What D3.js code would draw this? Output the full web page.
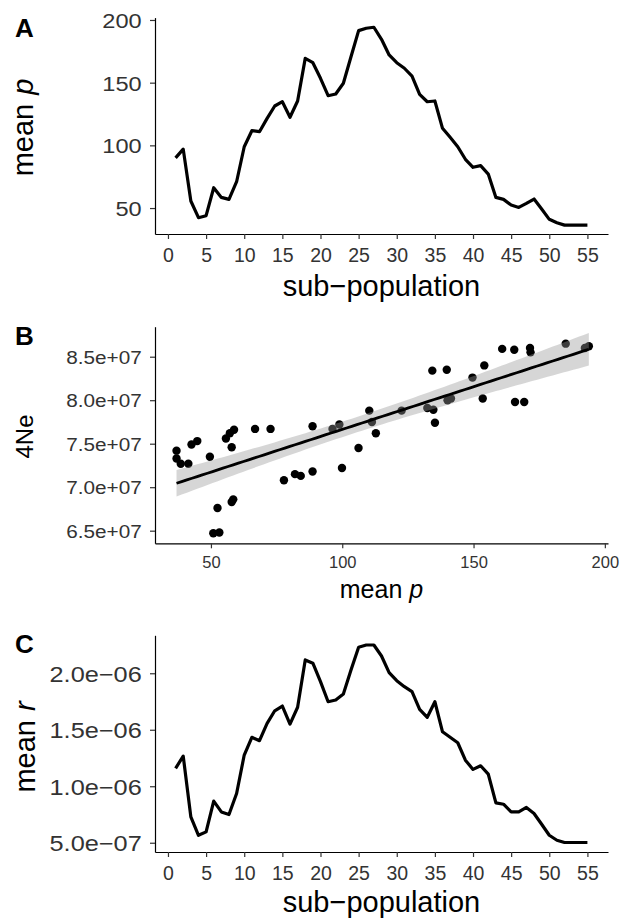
<!DOCTYPE html>
<html>
<head>
<meta charset="utf-8">
<script src="https://cdn.jsdelivr.net/npm/d3@7"></script>
<style>
  body { margin: 0; background: #fff; }
  svg text { font-family: "Liberation Sans", Arial, sans-serif; }
</style>
</head>
<body>
<svg id="chart" width="630" height="919"></svg>
<script>
// sub-population index (x of panels A and C)
const subPop = [1, 2, 3, 4, 5, 6, 7, 8, 9, 10, 11, 12, 13, 14, 15, 16, 17, 18, 19, 20,
  21, 22, 23, 24, 25, 26, 27, 28, 29, 30, 31, 32, 33, 34, 35, 36, 37, 38, 39, 40,
  41, 42, 43, 44, 45, 46, 47, 48, 49, 50, 51, 52, 53, 54, 55];

// panel A: mean p per sub-population
const meanP = [90, 97, 55.6, 42.3, 43.9, 66.2, 58.5, 56.9, 71, 98.9,
  111.7, 110.9, 121.5, 131.4, 134.8, 122.4, 135.4, 169.4, 165.9, 153.5,
  139.6, 141, 149.5, 170.7, 191.5, 193.4, 194.2, 184.6, 172.1, 165.9,
  161.5, 155.3, 140.7, 134.8, 135.4, 113.6, 106.4, 98.9, 88.9, 82.5,
  83.8, 77.1, 58.5, 56.9, 52.4, 50.5, 53.7, 57.2, 49.2, 41,
  38.3, 36.4, 36.4, 36.4, 36.4];

// panel C: mean r per sub-population
const meanR = [1.158e-6, 1.267e-6, 0.729e-6, 0.566e-6, 0.596e-6, 0.868e-6, 0.773e-6, 0.75e-6, 0.936e-6, 1.276e-6,
  1.433e-6, 1.403e-6, 1.557e-6, 1.668e-6, 1.71e-6, 1.55e-6, 1.699e-6, 2.118e-6, 2.089e-6, 1.926e-6,
  1.748e-6, 1.763e-6, 1.816e-6, 2.029e-6, 2.23e-6, 2.25e-6, 2.25e-6, 2.153e-6, 2.005e-6, 1.934e-6,
  1.881e-6, 1.837e-6, 1.681e-6, 1.61e-6, 1.748e-6, 1.482e-6, 1.433e-6, 1.385e-6, 1.231e-6, 1.149e-6,
  1.181e-6, 1.107e-6, 0.853e-6, 0.841e-6, 0.773e-6, 0.773e-6, 0.812e-6, 0.759e-6, 0.664e-6, 0.566e-6,
  0.522e-6, 0.502e-6, 0.502e-6, 0.502e-6, 0.502e-6];

// panel B: mean p vs 4Ne
const scatterP = [36.9, 36.9, 38.5, 41.4, 42.6, 44.8, 49.6, 50.9, 53.2, 52.5,
  57.9, 58.5, 55.7, 57.2, 58.8, 57.9, 66.8, 72.7, 77.8, 82.0,
  84.2, 88.7, 88.7, 96.3, 98.9, 99.9, 106.2, 110.3, 111.3, 112.8,
  122.6, 132.4, 134.7, 135.3, 134.3, 139.8, 140.1, 141.4, 149.6, 154.1,
  153.5, 160.9, 165.5, 171.5, 171.7, 165.8, 169.3, 185.1, 192.4, 193.9];
const scatterNe = [7.42e7, 7.33e7, 7.27e7, 7.27e7, 7.49e7, 7.53e7, 7.35e7, 6.47e7, 6.48e7, 6.76e7,
  6.83e7, 6.86e7, 7.56e7, 7.62e7, 7.66e7, 7.46e7, 7.67e7, 7.67e7, 7.08e7, 7.15e7,
  7.13e7, 7.18e7, 7.70e7, 7.67e7, 7.72e7, 7.22e7, 7.45e7, 7.88e7, 7.75e7, 7.62e7,
  7.88e7, 7.91e7, 7.89e7, 7.74e7, 8.34e7, 8.35e7, 8.00e7, 8.02e7, 8.26e7, 8.40e7,
  8.02e7, 8.59e7, 8.58e7, 8.60e7, 8.55e7, 7.98e7, 7.98e7, 8.65e7, 8.60e7, 8.62e7];

// tick values
const subPopTicks = [0, 5, 10, 15, 20, 25, 30, 35, 40, 45, 50, 55];
const meanPTicksA = [50, 100, 150, 200];
const meanPTicksB = [50, 100, 150, 200];
const neTicks = [6.5e7, 7.0e7, 7.5e7, 8.0e7, 8.5e7];
const rTicks = [5e-7, 1e-6, 1.5e-6, 2e-6];

const svg = d3.select("#chart");

// R-style scientific labels: 2.0e-06, 8.5e+07
function sci(v) {
  const parts = v.toExponential(1).split("e");
  const e = +parts[1];
  return parts[0] + "e" + (e < 0 ? "\u2212" : "+") + String(Math.abs(e)).padStart(2, "0");
}

// widen text a bit (the source figure is slightly stretched)
function stretch(sel, k) {
  sel.each(function() {
    const w = this.getComputedTextLength();
    d3.select(this).attr("textLength", w * k).attr("lengthAdjust", "spacingAndGlyphs");
  });
}

function drawAxes(x, y, o) {
  const xg = svg.append("g")
    .attr("transform", `translate(0,${y.range()[0]})`)
    .call(d3.axisBottom(x).tickValues(o.xTicks).tickSize(5).tickSizeOuter(0));
  xg.selectAll("text")
    .attr("y", o.xLabOff).attr("dy", null)
    .attr("fill", "#333").style("font-size", o.xFont + "px");

  const yg = svg.append("g")
    .attr("transform", `translate(${x.range()[0]},0)`)
    .call(d3.axisLeft(y).tickValues(o.yTicks).tickFormat(o.yFmt).tickSize(5).tickSizeOuter(0));
  yg.selectAll("text")
    .attr("x", -13.3).attr("dy", "0.36em")
    .attr("fill", "#333").style("font-size", o.yFont + "px")
    .call(stretch, 1.15);

  [xg, yg].forEach(g => {
    g.select(".domain").attr("stroke", "#000").attr("stroke-width", 1.2);
    g.selectAll(".tick line").attr("stroke", "#333").attr("stroke-width", 1.2);
  });
}

function yTitle(xb, yc, size, main, ital) {
  const t = svg.append("text")
    .attr("transform", `translate(${xb},${yc}) rotate(-90)`)
    .attr("text-anchor", "middle")
    .style("font-size", size + "px")
    .text(main);
  if (ital) t.append("tspan").attr("dx", 9).style("font-style", "italic").text(ital);
}

function xTitle(xc, yb, size, main, ital) {
  const t = svg.append("text")
    .attr("x", xc).attr("y", yb)
    .attr("text-anchor", "middle")
    .style("font-size", size + "px")
    .text(main);
  if (ital) t.append("tspan").attr("dx", 7).style("font-style", "italic").text(ital);
}

function panelTag(letter, yb) {
  svg.append("text").attr("x", 15).attr("y", yb)
    .style("font-size", "26px").style("font-weight", "bold")
    .text(letter);
}

function linePanel(vals, yDomain, yRange, o) {
  const x = d3.scaleLinear().domain([-1.7, 57.7]).range([155, 608]);
  const y = d3.scaleLinear().domain(yDomain).range(yRange);
  drawAxes(x, y, o);
  svg.append("path")
    .datum(subPop.map((s, i) => [s, vals[i]]))
    .attr("fill", "none")
    .attr("stroke", "#000")
    .attr("stroke-width", 3.2)
    .attr("stroke-linejoin", "round")
    .attr("d", d3.line().x(d => x(d[0])).y(d => y(d[1])));
}

// ---------- panel A ----------
linePanel(meanP, [29.3, 201.9], [234, 17.6], {
  xTicks: subPopTicks, yTicks: meanPTicksA, yFmt: d3.format("d"),
  xLabOff: 27.5, xFont: 19.5, yFont: 20.5
});
xTitle(381.5, 296, 29, "sub\u2212population");
yTitle(33, 127.5, 29, "mean", "p");
panelTag("A", 37);

// ---------- panel B ----------
{
  const x = d3.scaleLinear().domain([28.7, 201.2]).range([155, 608]);
  const y = d3.scaleLinear().domain([6.355e7, 8.845e7]).range([543.3, 326.7]);
  drawAxes(x, y, {
    xTicks: meanPTicksB, yTicks: neTicks, yFmt: sci,
    xLabOff: 24.7, xFont: 16.5, yFont: 18
  });

  const pts = scatterP.map((p, i) => [p, scatterNe[i]]);
  svg.append("g").selectAll("circle")
    .data(pts).join("circle")
    .attr("cx", d => x(d[0])).attr("cy", d => y(d[1]))
    .attr("r", 4.2).attr("fill", "#000");

  // linear fit with 95% confidence band
  const n = pts.length;
  const mx = d3.mean(pts, d => d[0]);
  const my = d3.mean(pts, d => d[1]);
  const sxx = d3.sum(pts, d => (d[0] - mx) ** 2);
  const sxy = d3.sum(pts, d => (d[0] - mx) * (d[1] - my));
  const b = sxy / sxx, a = my - b * mx;
  const s = Math.sqrt(d3.sum(pts, d => (d[1] - a - b * d[0]) ** 2) / (n - 2));
  const tq = 2.01;
  const [x0, x1] = d3.extent(scatterP);
  const grid = d3.range(0, 81).map(k => x0 + (x1 - x0) * k / 80);
  const band = grid.map(v => {
    const se = s * Math.sqrt(1 / n + (v - mx) ** 2 / sxx);
    const f = a + b * v;
    return { v, f, lo: f - tq * se, hi: f + tq * se };
  });
  svg.append("path").datum(band)
    .attr("fill", "#999").attr("fill-opacity", 0.4)
    .attr("d", d3.area().x(d => x(d.v)).y0(d => y(d.lo)).y1(d => y(d.hi)));
  svg.append("path").datum(band)
    .attr("fill", "none").attr("stroke", "#000").attr("stroke-width", 2.8)
    .attr("d", d3.line().x(d => x(d.v)).y(d => y(d.f)));

  xTitle(381.5, 598, 25, "mean", "p");
  yTitle(33, 436.5, 24, "4Ne");
  panelTag("B", 345);
}

// ---------- panel C ----------
linePanel(meanR, [0.418e-6, 2.336e-6], [852, 635.3], {
  xTicks: subPopTicks, yTicks: rTicks, yFmt: sci,
  xLabOff: 27.5, xFont: 19.5, yFont: 22
});
xTitle(381.5, 912, 29, "sub\u2212population");
yTitle(35, 747, 29, "mean", "r");
panelTag("C", 653);
</script>
</body>
</html>
